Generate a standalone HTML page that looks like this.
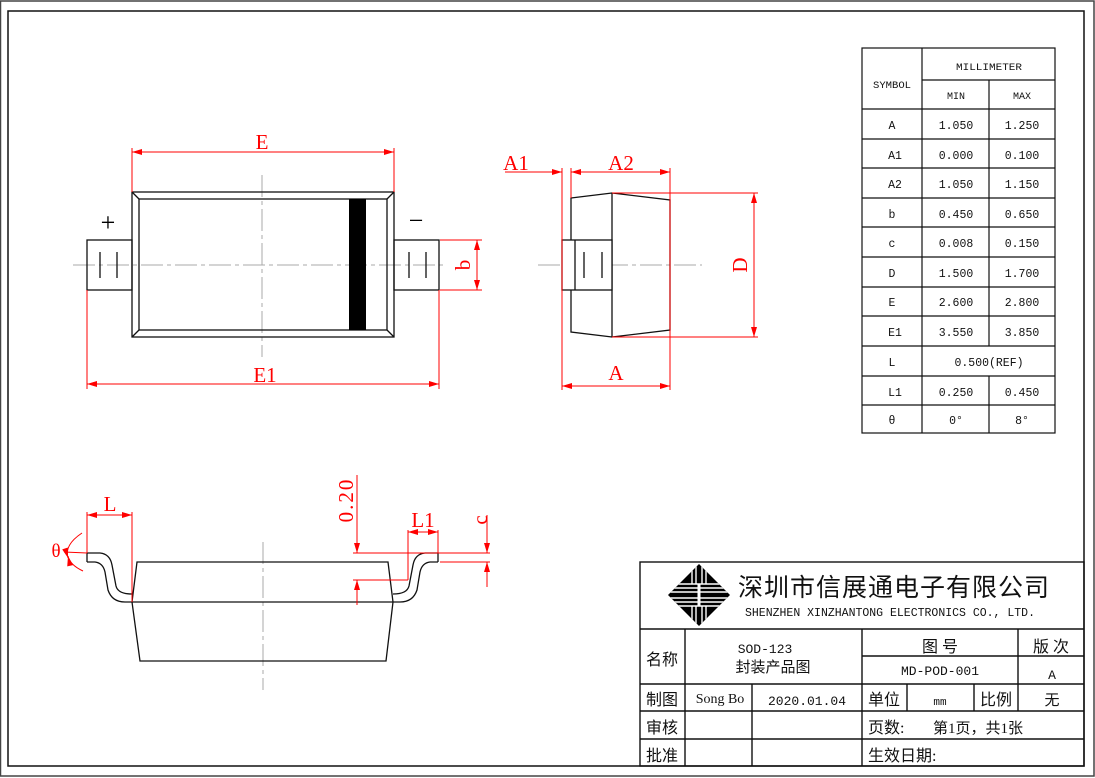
<!DOCTYPE html>
<html><head><meta charset="utf-8"><style>
html,body{margin:0;padding:0;background:#fff}
svg{display:block}
text{font-family:"Liberation Serif","Noto Serif CJK SC",serif}
text.cj,.cj text{font-family:"Liberation Serif","Noto Sans CJK SC",sans-serif}
text.m,.m text{font-family:"Liberation Mono","Noto Sans CJK SC",monospace}
</style></head><body>
<svg width="1095" height="778" viewBox="0 0 1095 778" xmlns="http://www.w3.org/2000/svg">
<defs>
<marker id="ar" viewBox="0 0 10 6" refX="10" refY="3" markerWidth="12" markerHeight="6" markerUnits="userSpaceOnUse" orient="auto-start-reverse"><path d="M0,0L10,3L0,6z" fill="#f00"/></marker>
<clipPath id="dm"><path d="M699,564L730,595L699,626L668,595z"/></clipPath>
</defs>
<rect x="0.5" y="1" width="1093.5" height="775" fill="none" stroke="#444" stroke-width="1.5"/>
<rect x="8" y="11" width="1076" height="755" fill="none" stroke="#111" stroke-width="1.5"/>

<g stroke="#aaa" stroke-width="1" stroke-dasharray="22,4,4,4" fill="none">
<line x1="73" y1="265" x2="446" y2="265"/><line x1="262" y1="175" x2="262" y2="357"/>
<line x1="538" y1="265" x2="702" y2="265"/>
<line x1="263" y1="542" x2="263" y2="690"/>
</g>
<g stroke="#111" stroke-width="1.3" fill="none">
<rect x="132" y="192" width="262" height="145"/>
<rect x="139" y="199" width="248" height="131"/>
<line x1="132" y1="192" x2="139" y2="199"/><line x1="394" y1="192" x2="387" y2="199"/>
<line x1="132" y1="337" x2="139" y2="330"/><line x1="394" y1="337" x2="387" y2="330"/>
<rect x="87" y="240" width="45" height="50"/>
<rect x="394" y="240" width="45" height="50"/>
<line x1="100" y1="252" x2="100" y2="278"/><line x1="117" y1="252" x2="117" y2="278"/>
<line x1="409" y1="252" x2="409" y2="278"/><line x1="426" y1="252" x2="426" y2="278"/>
</g>
<rect x="349" y="199" width="17" height="131" fill="#000"/>
<text x="108" y="231" font-size="26" text-anchor="middle" fill="#000">+</text>
<text x="416" y="229" font-size="26" text-anchor="middle" fill="#000">−</text>
<g stroke="#f00" stroke-width="1" fill="none">
<line x1="132" y1="148" x2="132" y2="192"/><line x1="394" y1="148" x2="394" y2="192"/>
<line x1="132" y1="152" x2="394" y2="152" marker-start="url(#ar)" marker-end="url(#ar)"/>
<line x1="87" y1="290" x2="87" y2="389"/><line x1="439" y1="290" x2="439" y2="389"/>
<line x1="87" y1="384" x2="439" y2="384" marker-start="url(#ar)" marker-end="url(#ar)"/>
<line x1="440" y1="240" x2="482" y2="240"/><line x1="440" y1="290" x2="482" y2="290"/>
<line x1="477" y1="240" x2="477" y2="290" marker-start="url(#ar)" marker-end="url(#ar)"/>
</g>
<g fill="#f00" font-size="21">
<text x="262" y="149" text-anchor="middle">E</text>
<text x="265" y="382" text-anchor="middle">E1</text>
<text x="0" y="0" transform="translate(470,265) rotate(-90)" text-anchor="middle">b</text>
</g>

<g stroke="#111" stroke-width="1.3" fill="none">
<path d="M571,198L612,193L670,200L670,330L612,337L571,332z"/>
<line x1="612" y1="193" x2="612" y2="337"/>
<rect x="562" y="240" width="50" height="50" fill="#fff"/>
<line x1="575" y1="240" x2="575" y2="290"/>
<line x1="584" y1="252" x2="584" y2="278"/><line x1="602" y1="252" x2="602" y2="278"/>
</g>
<g stroke="#f00" stroke-width="1" fill="none">
<line x1="562" y1="168" x2="562" y2="390"/><line x1="571" y1="168" x2="571" y2="198"/><line x1="670" y1="168" x2="670" y2="390"/>
<line x1="505" y1="172" x2="562" y2="172" marker-end="url(#ar)"/>
<line x1="571" y1="172" x2="670" y2="172" marker-start="url(#ar)" marker-end="url(#ar)"/>
<line x1="612" y1="193" x2="758" y2="193"/><line x1="612" y1="337" x2="758" y2="337"/>
<line x1="754" y1="193" x2="754" y2="337" marker-start="url(#ar)" marker-end="url(#ar)"/>
<line x1="562" y1="386" x2="670" y2="386" marker-start="url(#ar)" marker-end="url(#ar)"/>
</g>
<g fill="#f00" font-size="21">
<text x="516" y="170" text-anchor="middle">A1</text>
<text x="621" y="170" text-anchor="middle">A2</text>
<text x="616" y="380" text-anchor="middle">A</text>
<text x="0" y="0" transform="translate(747,265) rotate(-90)" text-anchor="middle">D</text>
</g>

<g stroke="#111" stroke-width="1.3" fill="none">
<path d="M137,562L388,562L393,602L386,661L140,661L132,602z"/>
<line x1="132" y1="602" x2="393" y2="602"/>
<path d="M87,562L87,553L100,553Q110,554 112,565L116,586Q118,594 132,594"/>
<path d="M87,562L95,562Q103,563 105,572L108,590Q112,602 125,602L132,602"/>
<path d="M438,562L438,553L425,553Q415,554 413,565L409,586Q407,594 393,594"/>
<path d="M438,562L430,562Q422,563 420,572L417,590Q413,602 400,602L393,602"/>
</g>
<g stroke="#f00" stroke-width="1" fill="none">
<line x1="87" y1="512" x2="87" y2="553"/><line x1="132" y1="512" x2="132" y2="602"/>
<line x1="87" y1="515" x2="132" y2="515" marker-start="url(#ar)" marker-end="url(#ar)"/>
<line x1="64" y1="552" x2="87" y2="553"/>
<path d="M82,533Q64,545 68,558" marker-end="url(#ar)"/>
<path d="M83,571Q70,565 68,556" marker-end="url(#ar)"/>
<line x1="357" y1="475" x2="357" y2="553" marker-end="url(#ar)"/>
<line x1="357" y1="605" x2="357" y2="580" marker-end="url(#ar)"/>
<line x1="353" y1="553" x2="490" y2="553"/><line x1="353" y1="580" x2="408" y2="580"/>
<line x1="408" y1="530" x2="408" y2="580"/><line x1="438" y1="530" x2="438" y2="553"/>
<line x1="408" y1="532" x2="438" y2="532" marker-start="url(#ar)" marker-end="url(#ar)"/>
<line x1="440" y1="562" x2="490" y2="562"/>
<line x1="487" y1="515" x2="487" y2="553" marker-end="url(#ar)"/>
<line x1="487" y1="587" x2="487" y2="562" marker-end="url(#ar)"/>
</g>
<g fill="#f00" font-size="21">
<text x="110" y="511" text-anchor="middle">L</text>
<text x="423" y="527" text-anchor="middle">L1</text>
<text x="56" y="557" text-anchor="middle" font-size="19">θ</text>
<text x="0" y="0" transform="translate(353,500) rotate(-90)" text-anchor="middle" letter-spacing="2">0.20</text>
<text x="0" y="0" transform="translate(487,520) rotate(-90)" text-anchor="middle">c</text>
</g>

<g stroke="#111" stroke-width="1.2" fill="none">
<rect x="862" y="48" width="193" height="385"/>
<line x1="922" y1="48" x2="922" y2="433"/>
<line x1="989" y1="80" x2="989" y2="346"/><line x1="989" y1="376" x2="989" y2="433"/>
<line x1="922" y1="80" x2="1055" y2="80"/>
<line x1="862" y1="109" x2="1055" y2="109"/><line x1="862" y1="139" x2="1055" y2="139"/>
<line x1="862" y1="168" x2="1055" y2="168"/><line x1="862" y1="198" x2="1055" y2="198"/>
<line x1="862" y1="227" x2="1055" y2="227"/><line x1="862" y1="257" x2="1055" y2="257"/>
<line x1="862" y1="287" x2="1055" y2="287"/><line x1="862" y1="316" x2="1055" y2="316"/>
<line x1="862" y1="346" x2="1055" y2="346"/><line x1="862" y1="376" x2="1055" y2="376"/>
<line x1="862" y1="405" x2="1055" y2="405"/>
</g>
<g fill="#111" font-size="11.5" text-anchor="middle" class="m">
<text x="892" y="88" font-size="10" textLength="38" lengthAdjust="spacingAndGlyphs">SYMBOL</text>
<text x="989" y="70" font-size="10" textLength="66" lengthAdjust="spacingAndGlyphs">MILLIMETER</text>
<text x="956" y="99" font-size="10">MIN</text><text x="1022" y="99" font-size="10">MAX</text>
<text x="892" y="129">A</text><text x="956" y="129">1.050</text><text x="1022" y="129">1.250</text>
<text x="895" y="159">A1</text><text x="956" y="159">0.000</text><text x="1022" y="159">0.100</text>
<text x="895" y="188">A2</text><text x="956" y="188">1.050</text><text x="1022" y="188">1.150</text>
<text x="892" y="218">b</text><text x="956" y="218">0.450</text><text x="1022" y="218">0.650</text>
<text x="892" y="247">c</text><text x="956" y="247">0.008</text><text x="1022" y="247">0.150</text>
<text x="892" y="277">D</text><text x="956" y="277">1.500</text><text x="1022" y="277">1.700</text>
<text x="892" y="306">E</text><text x="956" y="306">2.600</text><text x="1022" y="306">2.800</text>
<text x="895" y="336">E1</text><text x="956" y="336">3.550</text><text x="1022" y="336">3.850</text>
<text x="892" y="366">L</text><text x="989" y="366">0.500(REF)</text>
<text x="895" y="396">L1</text><text x="956" y="396">0.250</text><text x="1022" y="396">0.450</text>
<text x="892" y="424">θ</text><text x="956" y="424">0°</text><text x="1022" y="424">8°</text>
</g>

<g stroke="#111" stroke-width="1.4" fill="none">
<rect x="640" y="562" width="444" height="204"/>
<line x1="640" y1="629" x2="1084" y2="629"/>
<line x1="862" y1="656" x2="1084" y2="656"/>
<line x1="640" y1="684" x2="1084" y2="684"/>
<line x1="640" y1="711" x2="1084" y2="711"/>
<line x1="640" y1="739" x2="1084" y2="739"/>
<line x1="685" y1="629" x2="685" y2="766"/>
<line x1="752" y1="684" x2="752" y2="766"/>
<line x1="862" y1="629" x2="862" y2="766"/>
<line x1="907" y1="684" x2="907" y2="711"/>
<line x1="974" y1="684" x2="974" y2="711"/>
<line x1="1018" y1="629" x2="1018" y2="711"/>
</g>
<g clip-path="url(#dm)">
<rect x="668" y="564" width="62" height="62" fill="#000"/>
<g stroke="#fff" stroke-width="1.4">
<line x1="668" y1="588" x2="730" y2="588"/><line x1="668" y1="592" x2="730" y2="592"/>
<line x1="668" y1="598" x2="730" y2="598"/><line x1="668" y1="602" x2="730" y2="602"/>
<line x1="668" y1="584" x2="730" y2="584"/><line x1="668" y1="606" x2="730" y2="606"/>
<line x1="692" y1="564" x2="692" y2="584"/><line x1="696" y1="564" x2="696" y2="584"/>
<line x1="702" y1="564" x2="702" y2="584"/><line x1="706" y1="564" x2="706" y2="584"/>
<line x1="692" y1="606" x2="692" y2="626"/><line x1="696" y1="606" x2="696" y2="626"/>
<line x1="702" y1="606" x2="702" y2="626"/><line x1="706" y1="606" x2="706" y2="626"/>
<line x1="699" y1="584" x2="699" y2="606" stroke-width="3"/>
</g>
</g>
<g fill="#111">
<text x="738" y="596" font-size="25" class="cj" letter-spacing="1">深圳市信展通电子有限公司</text>
<text x="745" y="616" font-size="11.5" class="m" textLength="290" lengthAdjust="spacingAndGlyphs">SHENZHEN XINZHANTONG ELECTRONICS CO., LTD.</text>
<g font-size="16" class="cj">
<text x="662" y="665" text-anchor="middle">名称</text>
<text x="662" y="705" text-anchor="middle">制图</text>
<text x="662" y="733" text-anchor="middle">审核</text>
<text x="662" y="761" text-anchor="middle">批准</text>
<text x="940" y="652" text-anchor="middle">图  号</text>
<text x="1051" y="652" text-anchor="middle">版 次</text>
<text x="884" y="705" text-anchor="middle">单位</text>
<text x="996" y="705" text-anchor="middle">比例</text>
<text x="1052" y="705" text-anchor="middle" font-size="15">无</text>
<text x="868" y="733">页数:</text>
<text x="933" y="733" font-size="15">第1页，共1张</text>
<text x="868" y="761">生效日期:</text>
<text x="773" y="672" text-anchor="middle" font-size="15">封装产品图</text>
</g>
<g font-size="13" class="m" text-anchor="middle">
<text x="765" y="653">SOD-123</text>
<text x="940" y="675">MD-POD-001</text>
<text x="1052" y="679">A</text>
<text x="807" y="705">2020.01.04</text>
<text x="940" y="705" font-size="11">mm</text>
</g>
<text x="720" y="703" font-size="14" text-anchor="middle">Song Bo</text>
</g>
</svg>
</body></html>
